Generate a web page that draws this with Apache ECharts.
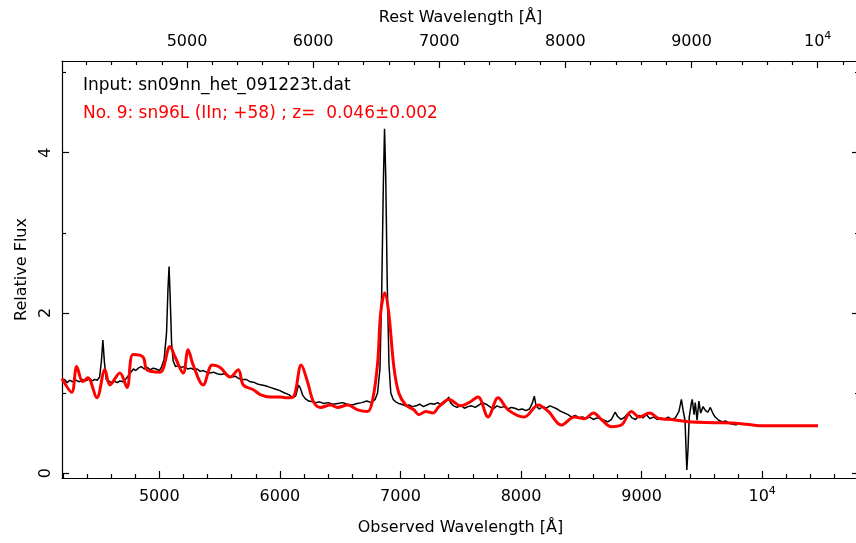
<!DOCTYPE html>
<html>
<head>
<meta charset="utf-8">
<title>SNID fit: sn09nn vs sn96L</title>
<script src="https://cdn.jsdelivr.net/npm/echarts@6/dist/echarts.min.js"></script>
<style>
  html, body { margin: 0; padding: 0; background: #fff; }
  #chart { width: 856px; height: 543px; }
</style>
</head>
<body>
<div id="chart"></div>
<script>
// Redshift of the best template match (rest = observed / (1 + z))
const redshift = 0.046;

// Observed spectrum: wavelength [Å] and relative flux
const inputWave = [
  4193, 4215, 4235, 4257, 4280, 4300, 4320, 4340, 4360, 4380, 4400, 4423, 4445, 4465, 4485, 4505,
  4520, 4532, 4545, 4560, 4580, 4600, 4625, 4650, 4673, 4700, 4720, 4740, 4760, 4785, 4805, 4825,
  4850, 4875, 4900, 4925, 4950, 4975, 5000, 5020, 5040, 5060, 5072, 5081, 5090, 5102, 5115, 5135,
  5160, 5185, 5210, 5235, 5260, 5290, 5315, 5339, 5365, 5390, 5420, 5450, 5480, 5510, 5540, 5570,
  5600, 5630, 5660, 5690, 5720, 5755, 5790, 5820, 5850, 5880, 5920, 5960, 6000, 6040, 6075, 6100,
  6130, 6155, 6170, 6190, 6210, 6240, 6270, 6300, 6330, 6360, 6400, 6440, 6480, 6520, 6560, 6600,
  6640, 6680, 6720, 6760, 6790, 6810, 6830, 6845, 6858, 6868, 6878, 6890, 6905, 6920, 6940, 6960,
  6985, 7010, 7040, 7070, 7100, 7130, 7160, 7190, 7220, 7250, 7280, 7310, 7335, 7360, 7385, 7400,
  7415, 7440, 7470, 7500, 7530, 7560, 7590, 7620, 7650, 7680, 7710, 7740, 7770, 7800, 7830, 7860,
  7890, 7920, 7950, 7980, 8010, 8040, 8070, 8095, 8110, 8125, 8150, 8180, 8210, 8240, 8270, 8300,
  8330, 8360, 8390, 8420, 8450, 8480, 8510, 8540, 8570, 8600, 8630, 8660, 8690, 8720, 8750, 8780,
  8800, 8830, 8860, 8890, 8920, 8950, 8980, 9010, 9040, 9070, 9100, 9130, 9160, 9190, 9220, 9250,
  9280, 9310, 9330, 9345, 9360, 9375, 9385, 9395, 9410, 9420, 9435, 9445, 9460, 9475, 9490, 9510,
  9530, 9550, 9570, 9590, 9610, 9640, 9670, 9700, 9730, 9760, 9790
];
const inputFlux = [
  1.15, 1.17, 1.13, 1.16, 1.14, 1.17, 1.15, 1.14, 1.17, 1.15, 1.16, 1.18, 1.15, 1.17, 1.16, 1.20,
  1.40, 1.66, 1.38, 1.17, 1.15, 1.13, 1.15, 1.13, 1.15, 1.14, 1.17, 1.21, 1.25, 1.30, 1.28, 1.31,
  1.33, 1.30, 1.32, 1.29, 1.31, 1.30, 1.28, 1.33, 1.42, 1.75, 2.30, 2.58, 2.20, 1.62, 1.40, 1.33,
  1.34, 1.32, 1.33, 1.30, 1.31, 1.29, 1.30, 1.27, 1.28, 1.26, 1.25, 1.26, 1.24, 1.23, 1.24, 1.21,
  1.20, 1.21, 1.18, 1.17, 1.17, 1.14, 1.13, 1.11, 1.10, 1.09, 1.07, 1.05, 1.03, 1.00, 0.98, 0.95,
  0.96, 1.10, 1.06, 0.97, 0.93, 0.90, 0.89, 0.88, 0.89, 0.87, 0.88, 0.86, 0.87, 0.88, 0.86, 0.85,
  0.87, 0.88, 0.90, 0.88, 0.92, 1.00, 1.30, 2.30, 3.60, 4.30, 3.70, 2.40, 1.35, 1.00, 0.92, 0.89,
  0.87, 0.86, 0.84, 0.85, 0.83, 0.84, 0.86, 0.83, 0.85, 0.87, 0.86, 0.88, 0.85, 0.87, 0.91, 0.95,
  0.88, 0.84, 0.82, 0.85, 0.81, 0.83, 0.84, 0.82, 0.85, 0.88, 0.86, 0.83, 0.80, 0.84, 0.82, 0.83,
  0.80, 0.82, 0.81, 0.79, 0.80, 0.78, 0.80, 0.88, 0.96, 0.84, 0.80, 0.83, 0.81, 0.84, 0.82, 0.80,
  0.77, 0.75, 0.73, 0.70, 0.72, 0.69, 0.70, 0.68, 0.70, 0.67, 0.69, 0.68, 0.66, 0.64, 0.67, 0.76,
  0.71, 0.67, 0.70, 0.75, 0.69, 0.67, 0.72, 0.69, 0.73, 0.68, 0.70, 0.67, 0.69, 0.67, 0.70, 0.67,
  0.69, 0.77, 0.92, 0.78, 0.66, 0.04, 0.30, 0.70, 0.85, 0.92, 0.73, 0.88, 0.66, 0.90, 0.75, 0.83,
  0.78, 0.76, 0.82, 0.75, 0.70, 0.66, 0.64, 0.65, 0.62, 0.61, 0.60
];

// Template spectrum (sn96L, redshifted): wavelength [Å] and relative flux
const templateWave = [
  4193, 4273, 4315, 4365, 4407, 4482, 4549, 4590, 4673, 4732, 4782, 4865, 4898, 5006, 5089, 5131,
  5198, 5239, 5281, 5364, 5439, 5505, 5588, 5655, 5696, 5780, 5838, 5921, 6004, 6063, 6112, 6177,
  6229, 6279, 6337, 6420, 6478, 6562, 6645, 6728, 6770, 6811, 6836, 6870, 6903, 6945, 6986, 7044,
  7111, 7153, 7211, 7269, 7319, 7402, 7502, 7568, 7643, 7727, 7810, 7893, 8026, 8143, 8226, 8334,
  8442, 8525, 8600, 8666, 8749, 8832, 8915, 8982, 9065, 9148, 9248, 9389, 9606, 9806, 9997, 10463
];
const templateFlux = [
  1.18, 1.01, 1.33, 1.14, 1.19, 0.94, 1.29, 1.10, 1.25, 1.07, 1.48, 1.45, 1.29, 1.26, 1.58, 1.45,
  1.25, 1.54, 1.35, 1.10, 1.35, 1.32, 1.20, 1.29, 1.10, 1.04, 0.98, 0.95, 0.95, 0.94, 0.95, 1.35,
  1.14, 0.89, 0.82, 0.85, 0.82, 0.85, 0.79, 0.77, 0.92, 1.38, 2.00, 2.25, 2.00, 1.33, 1.00, 0.85,
  0.79, 0.73, 0.77, 0.75, 0.83, 0.92, 0.84, 0.88, 0.95, 0.70, 0.94, 0.79, 0.70, 0.85, 0.77, 0.60,
  0.70, 0.68, 0.75, 0.67, 0.58, 0.60, 0.77, 0.70, 0.75, 0.68, 0.67, 0.64, 0.63, 0.62, 0.59, 0.59
];

// Tick values
const obsMajorTicks = [5000, 6000, 7000, 8000, 9000, 10000];
const obsMinorTicks = [4200, 4400, 4600, 4800, 5200, 5400, 5600, 5800, 6200, 6400, 6600, 6800,
  7200, 7400, 7600, 7800, 8200, 8400, 8600, 8800, 9200, 9400, 9600, 9800, 10200, 10400, 10600, 10800];
const restMajorTicks = [5000, 6000, 7000, 8000, 9000, 10000];
const restMinorTicks = [4200, 4400, 4600, 4800, 5200, 5400, 5600, 5800, 6200, 6400, 6600, 6800,
  7200, 7400, 7600, 7800, 8200, 8400, 8600, 8800, 9200, 9400, 9600, 9800, 10200];
const fluxMajorTicks = [0, 2, 4];
const fluxMinorTicks = [1, 3, 5];

// Caption lines
const inputLabel = 'Input: sn09nn_het_091223t.dat';
const matchLabel = 'No. 9: sn96L (IIn; +58) ; z=  0.046\u00b10.002';

const FONT = '"DejaVu Sans", "Liberation Sans", sans-serif';
const X_MIN = 4193, X_MAX = 10803;
const Y_MIN = -0.061, Y_MAX = 5.145;

const frame = { color: '#000', width: 1.2 };

function zip(xs, ys) { return xs.map((x, i) => [x, ys[i]]); }

// 10000 is written as 10 with a raised 4
function waveLabel(v) {
  return v === 10000 ? '{b|10}{s|4}' : '{b|' + v + '}';
}
const labelRich = {
  b: { fontSize: 16, lineHeight: 22, fontFamily: FONT, color: '#000' },
  s: { fontSize: 11, lineHeight: 11, verticalAlign: 'top', fontFamily: FONT, color: '#000' }
};

function xAxisPair(pos, min, max, major, minor, name, nameGap, labelMargin) {
  return [
    {
      type: 'value', position: pos, min: min, max: max, gridIndex: 0,
      axisLine: { show: true, onZero: false, lineStyle: frame },
      axisTick: { show: true, inside: true, length: 7, customValues: major, lineStyle: frame },
      axisLabel: { show: true, customValues: major, formatter: waveLabel, rich: labelRich, margin: labelMargin },
      splitLine: { show: false },
      name: name, nameLocation: 'middle', nameGap: nameGap,
      nameTextStyle: { fontSize: 16, fontFamily: FONT, color: '#000' }
    },
    {
      type: 'value', position: pos, min: min, max: max, gridIndex: 0,
      axisLine: { show: false, onZero: false },
      axisTick: { show: true, inside: true, length: 4, customValues: minor, lineStyle: frame },
      axisLabel: { show: false },
      splitLine: { show: false }
    }
  ];
}

function yAxisPair(pos, withLabels) {
  return [
    {
      type: 'value', position: pos, min: Y_MIN, max: Y_MAX, gridIndex: 0,
      axisLine: { show: true, onZero: false, lineStyle: frame },
      axisTick: { show: true, inside: true, length: 7, customValues: fluxMajorTicks, lineStyle: frame },
      axisLabel: withLabels ? {
        show: true, customValues: fluxMajorTicks, rotate: 90, margin: 8,
        fontSize: 16, fontFamily: FONT, color: '#000'
      } : { show: false },
      splitLine: { show: false },
      name: withLabels ? 'Relative Flux' : '', nameLocation: 'middle', nameGap: 32, nameRotate: 90,
      nameTextStyle: { fontSize: 16, fontFamily: FONT, color: '#000' }
    },
    {
      type: 'value', position: pos, min: Y_MIN, max: Y_MAX, gridIndex: 0,
      axisLine: { show: false, onZero: false },
      axisTick: { show: true, inside: true, length: 4, customValues: fluxMinorTicks, lineStyle: frame },
      axisLabel: { show: false },
      splitLine: { show: false }
    }
  ];
}

const chart = echarts.init(document.getElementById('chart'), null, { renderer: 'canvas' });

chart.setOption({
  animation: false,
  backgroundColor: '#fff',
  grid: { left: 62, top: 61, width: 797, height: 417, outerBoundsMode: 'none', containLabel: false },
  xAxis: [].concat(
    xAxisPair('bottom', X_MIN, X_MAX, obsMajorTicks, obsMinorTicks, 'Observed Wavelength [Å]', 42, 8),
    xAxisPair('top', X_MIN / (1 + redshift), X_MAX / (1 + redshift), restMajorTicks, restMinorTicks, 'Rest Wavelength [Å]', 35, 8)
  ),
  yAxis: [].concat(yAxisPair('left', true), yAxisPair('right', false)),
  graphic: [
    { type: 'text', left: 83, top: 77, style: { text: inputLabel, fill: '#000', font: '17px ' + FONT } },
    { type: 'text', left: 83, top: 105, style: { text: matchLabel, fill: '#ff0000', font: '17px ' + FONT } }
  ],
  series: [
    {
      name: 'input', type: 'line', xAxisIndex: 0, yAxisIndex: 0,
      data: zip(inputWave, inputFlux),
      showSymbol: false, lineStyle: { color: '#000', width: 1.5 }, z: 2
    },
    {
      name: 'template', type: 'line', xAxisIndex: 0, yAxisIndex: 0,
      data: zip(templateWave, templateFlux), smooth: 0.35,
      showSymbol: false, lineStyle: { color: '#ff0000', width: 3 }, z: 3
    }
  ]
});
</script>
</body>
</html>
